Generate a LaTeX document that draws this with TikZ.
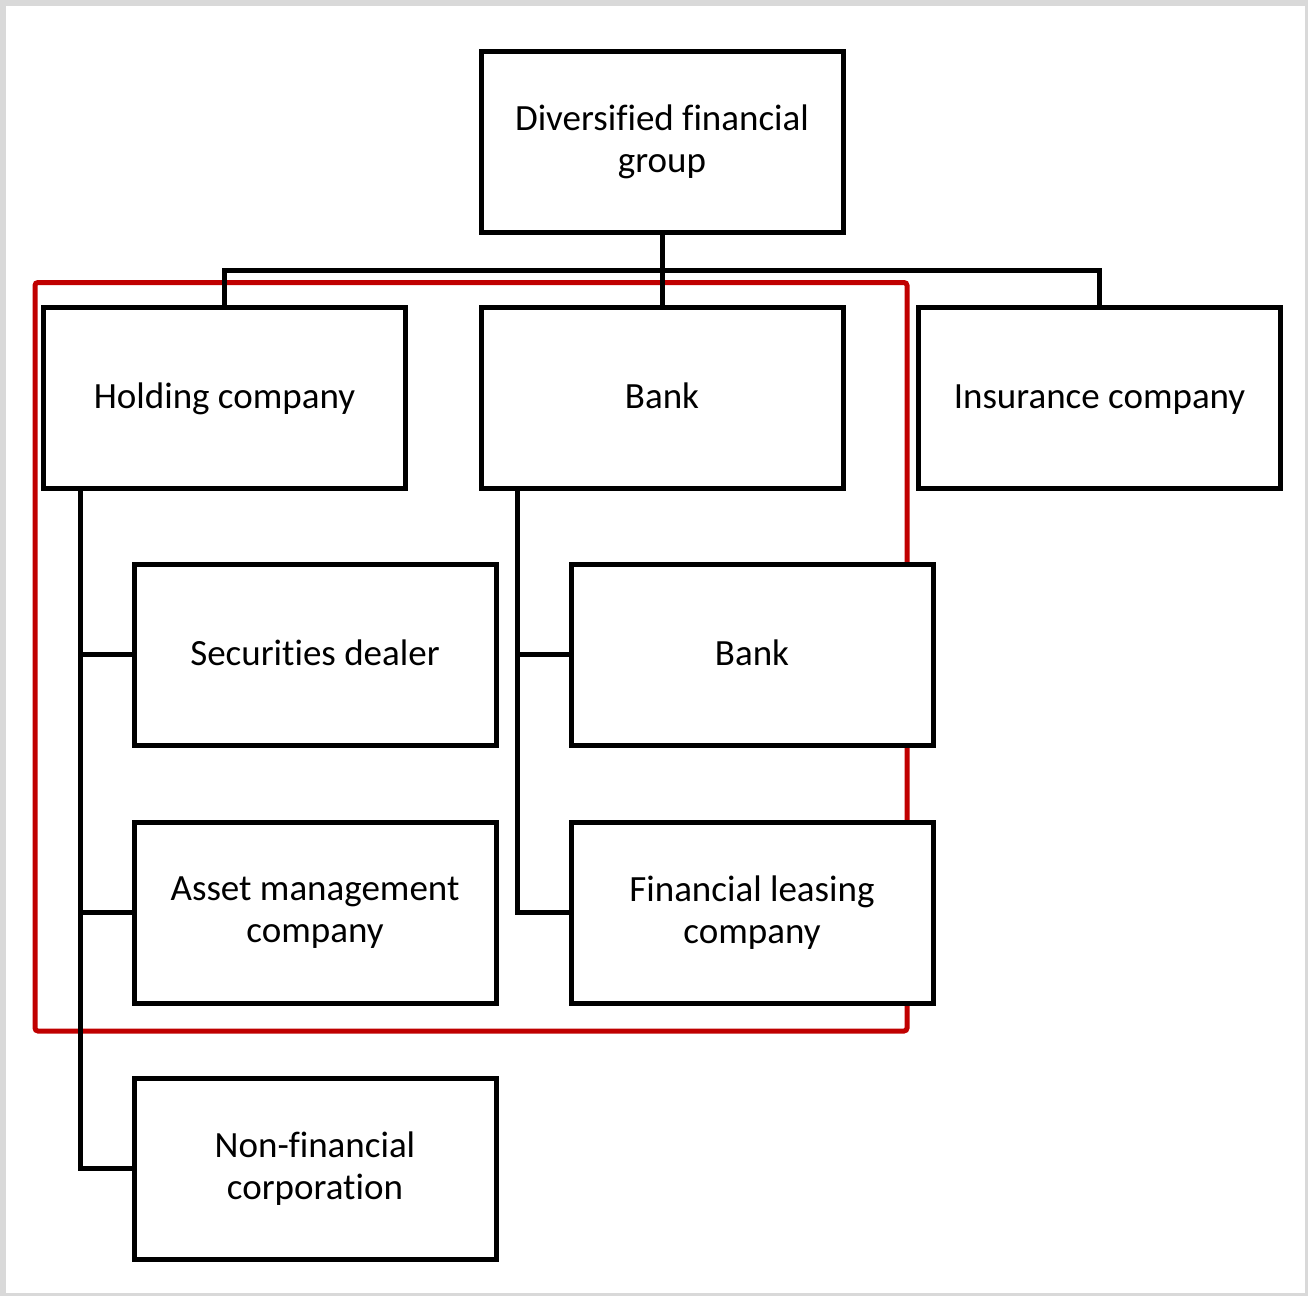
\documentclass[tikz,border=0pt]{standalone}
\usepackage{fontspec}
\setmainfont[Ligatures=NoCommon]{Carlito}
\usetikzlibrary{backgrounds}
\definecolor{frame}{HTML}{D9D9D9}
\definecolor{redline}{HTML}{C00000}
\begin{document}
\begin{tikzpicture}[x=0.5pt,y=-0.5pt,
  orgbox/.style={draw=black, fill=white, line width=2.5pt, outer sep=0pt, inner sep=2pt,
    minimum width=181pt, minimum height=90.5pt, align=center,
    font=\fontsize{18.5}{21}\selectfont},
  onebox/.style={orgbox, text height=15pt, text depth=4pt},
  link/.style={draw=black, line width=2.5pt},
  grouprect/.style={draw=redline, line width=2.5pt, rounded corners=1.5pt}]
\useasboundingbox (0,0) rectangle (1308,1296);
% boxes
\node[orgbox] (top) at (662,142) {Diversified financial\\group};
\node[onebox] (hold) at (224.5,397.5) {Holding company};
\node[onebox] (bank) at (662,397.5) {Bank};
\node[onebox] (ins) at (1099.5,397.5) {Insurance company};
\node[onebox] (sec) at (315,654.5) {Securities dealer};
\node[orgbox] (asset) at (315,912.5) {Asset management\\company};
\node[orgbox] (nonfin) at (315,1168.5) {Non-financial\\corporation};
\node[onebox] (bank2) at (752,654.5) {Bank};
\node[orgbox] (lease) at (752,912.5) {Financial leasing\\company};
% background: frame and red group outline
\begin{scope}[on background layer]
\fill[frame] (0,0) rectangle (1308,1296);
\fill[white] (6,6) rectangle (1305,1293);
\draw[grouprect] (35,282.5) rectangle (907,1031);
\end{scope}
% connector helper coordinates
\coordinate (bus) at (662,270);
\coordinate (hsp) at ([xshift=18.5pt]hold.south west);
\coordinate (bsp) at ([xshift=18pt]bank.south west);
% connectors
\draw[link] (top.south) -- (bank.north);
\draw[link] (hold.north) -- (hold.north |- bus) -- (ins.north |- bus) -- (ins.north);
\draw[link] (hsp) |- (nonfin.west);
\draw[link] (sec.west) -- (sec.west -| hsp);
\draw[link] (asset.west) -- (asset.west -| hsp);
\draw[link] (bsp) |- (lease.west);
\draw[link] (bank2.west) -- (bank2.west -| bsp);
\end{tikzpicture}
\end{document}
